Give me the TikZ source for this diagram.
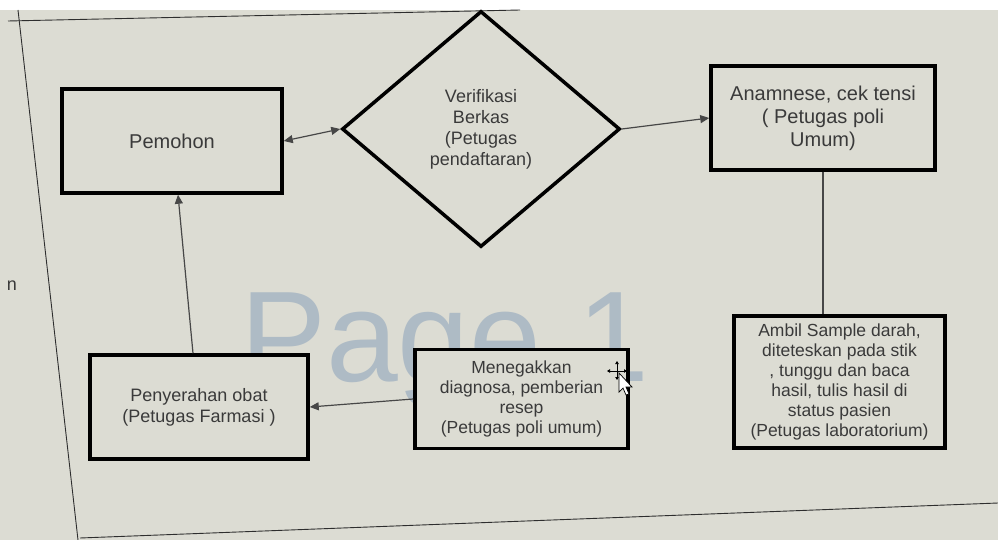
\documentclass[tikz,border=0pt]{standalone}
\usepackage{fontspec}
\setmainfont{Liberation Sans}
\usetikzlibrary{shapes.geometric,arrows.meta}
\definecolor{bg}{HTML}{DCDCD3}
\definecolor{txt}{HTML}{3A3A3A}
\definecolor{lk}{HTML}{474747}
\definecolor{wm}{HTML}{AEBBC5}
\definecolor{pg}{HTML}{2E2E2E}
\begin{document}
\begin{tikzpicture}[x=1pt,y=-1pt,
  box/.style={draw=black, line width=3.5pt, fill=bg, align=center, text=txt,
    font=\fontsize{18}{21}\selectfont, inner sep=2pt},
  bigtext/.style={font=\fontsize{20}{23}\selectfont},
  conn/.style={draw=lk, line width=1.2pt},
  tip/.style={-{Triangle[length=9pt,width=8pt]}},
  tips/.style={{Triangle[length=9pt,width=8pt]}-{Triangle[length=9pt,width=8pt]}},
  small/.style={black, line width=0.8pt, -{Triangle[length=3pt,width=3.5pt]}}]
\fill[bg] (0,0) rectangle (998,540);
\useasboundingbox (0,0) rectangle (998,540);
\fill[white] (0,0) rectangle (998,10);
% page edges
\draw[pg, line width=0.9pt] (8,21) -- (520,10);
\draw[pg, line width=0.9pt] (18,10) -- (78,540);
\draw[pg, line width=0.9pt] (80,538) -- (998,503);
\node[font=\fontsize{18}{20}\selectfont, text=txt] (nn) at (12,286) {n};
% watermark
\node[anchor=base west, inner sep=0pt, text=wm, font=\fontsize{129}{130}\selectfont] (wmk) at (240,381) {Page 1};
% boxes
\node[box, bigtext, minimum width=220pt, minimum height=104pt] (pem) at (172,141) {Pemohon};
\node[box, diamond, minimum width=278pt, minimum height=236pt, inner sep=0pt] (ver) at (481,129)
  {Verifikasi\\Berkas\\(Petugas\\pendaftaran)};
\node[box, bigtext, minimum width=224pt, minimum height=104pt] (ana) at (823,118)
  {Anamnese, cek tensi\\( Petugas poli\\Umum)};
\node[box, minimum width=211pt, minimum height=132pt, font=\fontsize{17.5}{20}\selectfont] (amb) at (839.5,382)
  {Ambil Sample darah,\\diteteskan pada stik\\, tunggu dan baca\\hasil, tulis hasil di\\status pasien\\(Petugas laboratorium)};
\node[box, minimum width=213pt, minimum height=99pt, font=\fontsize{17.5}{20}\selectfont] (men) at (521.5,399)
  {Menegakkan\\diagnosa, pemberian\\resep\\(Petugas poli umum)};
\node[box, minimum width=218pt, minimum height=104pt] (pen) at (199,407)
  {Penyerahan obat\\(Petugas Farmasi )};
% connectors
\draw[conn, tips] (pem.east) -- (ver.west);
\draw[conn, tip] (ver.east) -- (ana.west);
\draw[conn] (ana.south) -- (ana.south |- amb.north);
\draw[conn, tip] (men.west) -- (pen.east);
\draw[conn, tip] ([xshift=-6pt]pen.north) -- ([xshift=6pt]pem.south);
% mouse cursor (move icon and pointer)
\coordinate (cur) at (617,371);
\draw[small] (cur) -- ++(-10,0);
\draw[small] (cur) -- ++(10,0);
\draw[small] (cur) -- ++(0,-10);
\draw[small] (cur) -- ++(0,9);
\draw[black, line width=0.7pt, fill=white] (619,373) -- (619,392) -- (623,388) -- (626,395) -- (629,394) -- (626,387) -- (632,387) -- cycle;
\end{tikzpicture}
\end{document}
